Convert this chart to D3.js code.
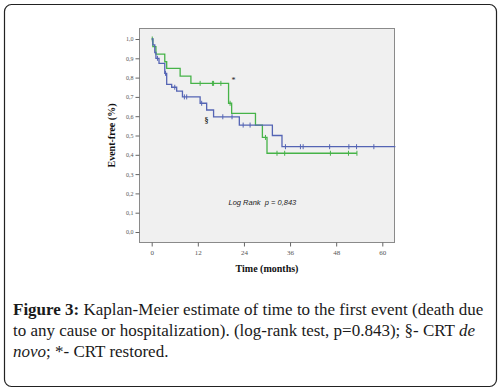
<!DOCTYPE html>
<html>
<head>
<meta charset="utf-8">
<script src="https://cdn.jsdelivr.net/npm/d3@7"></script>
<style>
  body { margin: 0; background: #fff; }
  svg { display: block; }
</style>
</head>
<body>
<div id="chart"></div>
<script>
// CRT de novo (§) - blue
const deNovoTimes = [0, 0.3, 0.8, 1.1, 1.9, 3.4, 3.9, 5.2, 6.5, 8.0, 12.6, 14.3, 16.1, 22.8, 31.4, 33.9];
const deNovoSurv  = [1.0, 0.97, 0.93, 0.90, 0.874, 0.822, 0.765, 0.75, 0.73, 0.70, 0.667, 0.632, 0.597, 0.554, 0.50, 0.442];
const deNovoEnd = 63.4;
const deNovoCensored = [1.5, 3.6, 6.0, 8.5, 9.1, 13.0, 18.5, 20.9, 23.8, 25.6, 34.8, 38.7, 39.4, 46.3, 51.3, 53.3, 57.8];

// CRT restored (*) - green
const restoredTimes = [0, 0.3, 1.1, 3.4, 3.9, 7.4, 10.2, 20.0, 20.8, 27.0, 28.8, 30.0];
const restoredSurv  = [1.0, 0.96, 0.922, 0.882, 0.848, 0.808, 0.77, 0.667, 0.615, 0.554, 0.49, 0.408];
const restoredEnd = 53.4;
const restoredCensored = [0.15, 12.6, 15.8, 16.1, 18.0, 20.4, 29.6, 32.6, 34.6, 46.5, 51.2, 53.4];

const xTicks = [0, 12, 24, 36, 48, 60];
const yTicks = [0, 0.1, 0.2, 0.3, 0.4, 0.5, 0.6, 0.7, 0.8, 0.9, 1.0];

const captionLines = [
  [{t: "Figure 3:", b: true}, {t: " Kaplan-Meier estimate of time to the first event (death due"}],
  [{t: "to any cause or hospitalization). (log-rank test, p=0.843); §- CRT "}, {t: "de", i: true}],
  [{t: "novo", i: true}, {t: "; *- CRT restored."}]
];

const W = 501, H = 391;
const svg = d3.select("#chart").append("svg")
    .attr("width", W)
    .attr("height", H);

// outer figure box
svg.append("rect")
    .attr("x", 4.5).attr("y", 4.5)
    .attr("width", 492).attr("height", 382)
    .attr("rx", 7)
    .attr("fill", "#fff")
    .attr("stroke", "#222")
    .attr("stroke-width", 1.2);

let x = d3.scaleLinear().domain([0, 60]).range([151.7, 382.3]);
let y = d3.scaleLinear().domain([0, 1]).range([232, 39]);

let frame = {left: 139.5, right: 394.5, top: 28.5, bottom: 242.5};

// plot background
svg.append("rect")
    .attr("x", frame.left).attr("y", frame.top)
    .attr("width", frame.right - frame.left)
    .attr("height", frame.bottom - frame.top)
    .attr("fill", "#f0f0f0")
    .attr("stroke", "#8a8a8a")
    .attr("stroke-width", 1);

let fmt = d => d3.format(".1f")(d).replace(".", ",");

// y axis
let yAxis = d3.axisLeft(y).tickValues(yTicks).tickFormat(fmt).tickSize(4).tickPadding(2);
let gy = svg.append("g")
    .attr("transform", `translate(${frame.left},0)`)
    .call(yAxis);
gy.select(".domain").remove();
gy.selectAll("line").attr("stroke", "#666");
gy.selectAll("text")
    .attr("fill", "#555")
    .style("font-family", "'Liberation Serif', serif")
    .style("font-size", "6px");

// x axis
let xAxis = d3.axisBottom(x).tickValues(xTicks).tickSize(4).tickPadding(4);
let gx = svg.append("g")
    .attr("transform", `translate(0,${frame.bottom})`)
    .call(xAxis);
gx.select(".domain").remove();
gx.selectAll("line").attr("stroke", "#666");
gx.selectAll("text")
    .attr("fill", "#555")
    .style("font-family", "'Liberation Serif', serif")
    .style("font-size", "7px");

// axis titles
svg.append("text")
    .attr("x", (x(0) + x(60)) / 2)
    .attr("y", 272)
    .attr("text-anchor", "middle")
    .style("font-family", "'Liberation Serif', serif")
    .style("font-weight", "bold")
    .style("font-size", "10px")
    .attr("fill", "#111")
    .text("Time (months)");

svg.append("text")
    .attr("transform", `translate(115,${(y(0) + y(1)) / 2}) rotate(-90)`)
    .attr("text-anchor", "middle")
    .style("font-family", "'Liberation Serif', serif")
    .style("font-weight", "bold")
    .style("font-size", "10px")
    .attr("fill", "#111")
    .text("Event-free (%)");

// curves
function survAt(times, surv, t) {
    let i = d3.bisectRight(times, t) - 1;
    return surv[Math.max(0, i)];
}

function drawCurve(times, surv, tEnd, censored, color) {
    let pts = times.map((t, i) => [t, surv[i]]);
    pts.push([tEnd, surv[surv.length - 1]]);

    let line = d3.line()
        .x(d => x(d[0]))
        .y(d => y(d[1]))
        .curve(d3.curveStepAfter);

    svg.append("path")
        .datum(pts)
        .attr("d", line)
        .attr("fill", "none")
        .attr("stroke", color)
        .attr("stroke-width", 1.3);

    svg.selectAll(null)
        .data(censored)
        .enter()
        .append("line")
        .attr("x1", d => x(d))
        .attr("x2", d => x(d))
        .attr("y1", d => y(survAt(times, surv, d)) - 2.5)
        .attr("y2", d => y(survAt(times, surv, d)) + 2.5)
        .attr("stroke", color)
        .attr("stroke-width", 1);
}

drawCurve(restoredTimes, restoredSurv, restoredEnd, restoredCensored, "#46b348");
drawCurve(deNovoTimes, deNovoSurv, deNovoEnd, deNovoCensored, "#5464b4");

// group markers
svg.append("text")
    .attr("x", 233.5).attr("y", 83)
    .attr("text-anchor", "middle")
    .style("font-family", "'Liberation Serif', serif")
    .style("font-size", "8px")
    .attr("fill", "#222")
    .text("*");

svg.append("text")
    .attr("x", 206.5).attr("y", 123)
    .attr("text-anchor", "middle")
    .style("font-family", "'Liberation Serif', serif")
    .style("font-weight", "bold")
    .style("font-size", "8px")
    .attr("fill", "#222")
    .text("§");

svg.append("text")
    .attr("x", 228.5).attr("y", 205)
    .style("font-family", "'Liberation Sans', Arial, sans-serif")
    .style("font-style", "italic")
    .style("font-size", "7.5px")
    .attr("fill", "#222")
    .attr("xml:space", "preserve")
    .text("Log Rank  p = 0,843");

// caption
let cap = svg.append("g")
    .style("font-family", "'Liberation Serif', serif")
    .style("font-size", "17px")
    .attr("fill", "#1a1a1a");

captionLines.forEach((parts, i) => {
    let t = cap.append("text")
        .attr("x", 13)
        .attr("y", 315 + i * 21)
        .attr("xml:space", "preserve");
    parts.forEach(p => {
        t.append("tspan")
            .style("font-weight", p.b ? "bold" : null)
            .style("font-style", p.i ? "italic" : null)
            .text(p.t);
    });
});
</script>
</body>
</html>
